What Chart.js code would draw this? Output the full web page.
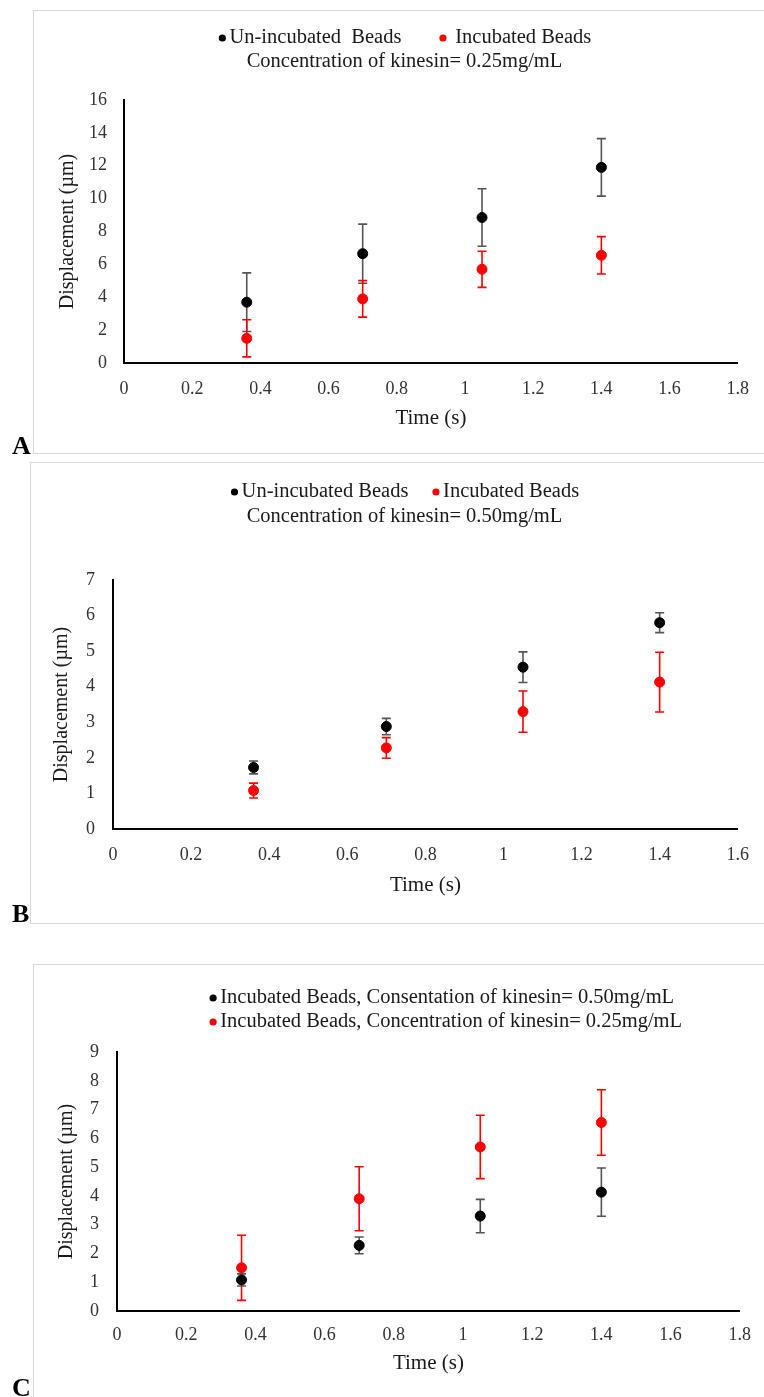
<!DOCTYPE html>
<html>
<head>
<meta charset="utf-8">
<title>Bead displacement vs time</title>
<script src="https://cdn.jsdelivr.net/npm/chart.js@4.4.0/dist/chart.umd.min.js"></script>
<style>
  html, body { margin: 0; padding: 0; background: #fff; }
  body {
    position: relative;
    width: 764px;
    height: 1397px;
    overflow: hidden;
    font-family: 'Liberation Serif', 'Times New Roman', serif;
  }
  .frame {
    position: absolute;
    width: 800px;
    box-sizing: border-box;
    border: 1.5px solid #d9d9d9;
    border-right: none;
  }
  .panel { position: absolute; left: 0; }
  .letter {
    position: absolute;
    left: 12px;
    font-size: 26px;
    line-height: 26px;
    font-weight: bold;
    color: #000;
  }
</style>
</head>
<body>
<div class="frame" style="left:33px; top:10px; height:444px"></div>
<div class="frame" style="left:30px; top:462px; height:462px"></div>
<div class="frame" style="left:33px; top:964px; height:500px"></div>

<canvas id="chartA" class="panel" style="top:0" width="764" height="455"></canvas>
<canvas id="chartB" class="panel" style="top:455px" width="764" height="470"></canvas>
<canvas id="chartC" class="panel" style="top:930px" width="764" height="467"></canvas>

<div class="letter" style="top:433px">A</div>
<div class="letter" style="top:901px">B</div>
<div class="letter" style="top:1375px">C</div>

<script>
const SERIF = "'Liberation Serif', 'Times New Roman', serif";

// sampling times (s), same for every series
const timeS = [0.36, 0.70, 1.05, 1.40];

// kinesin 0.25 mg/mL
const unincubated025 = [3.7, 6.65, 8.85, 11.9];
const unincubated025Err = [1.78, 1.8, 1.75, 1.75];
const incubated025 = [1.5, 3.9, 5.7, 6.55];
const incubated025Err = [1.13, 1.11, 1.1, 1.14];

// kinesin 0.50 mg/mL
const unincubated050 = [1.73, 2.88, 4.55, 5.8];
const unincubated050Err = [0.18, 0.23, 0.43, 0.28];
const incubated050 = [1.08, 2.28, 3.3, 4.13];
const incubated050Err = [0.21, 0.29, 0.58, 0.84];

// axis ticks
const xTicksA = [0, 0.2, 0.4, 0.6, 0.8, 1, 1.2, 1.4, 1.6, 1.8];
const yTicksA = [0, 2, 4, 6, 8, 10, 12, 14, 16];
const xTicksB = [0, 0.2, 0.4, 0.6, 0.8, 1, 1.2, 1.4, 1.6];
const yTicksB = [0, 1, 2, 3, 4, 5, 6, 7];
const xTicksC = [0, 0.2, 0.4, 0.6, 0.8, 1, 1.2, 1.4, 1.6, 1.8];
const yTicksC = [0, 1, 2, 3, 4, 5, 6, 7, 8, 9];

// legend / caption text
const namesA = ['Un-incubated  Beads', ' Incubated Beads'];
const captionA = 'Concentration of kinesin= 0.25mg/mL';
const namesB = ['Un-incubated Beads', 'Incubated Beads'];
const captionB = 'Concentration of kinesin= 0.50mg/mL';
const namesC = [
  'Incubated Beads, Consentation of kinesin= 0.50mg/mL',
  'Incubated Beads, Concentration of kinesin= 0.25mg/mL'
];

const xTitle = 'Time (s)';
const yTitle = 'Displacement (\u00b5m)';

/**
 * Vertical error bars with caps, drawn just under each dataset's points.
 */
const errorBarPlugin = {
  id: 'errorBars',
  beforeDatasetDraw(chart, args) {
    const ds = chart.data.datasets[args.index];
    if (!ds.yErr) return;
    const xs = chart.scales.x;
    const ys = chart.scales.y;
    const ctx = chart.ctx;
    ctx.save();
    ctx.strokeStyle = ds.errColor;
    ctx.lineWidth = 1.6;
    ds.data.forEach((p, i) => {
      const e = ds.yErr[i];
      const px = xs.getPixelForValue(p.x);
      const top = ys.getPixelForValue(p.y + e);
      const bot = ys.getPixelForValue(p.y - e);
      ctx.beginPath();
      ctx.moveTo(px, top); ctx.lineTo(px, bot);
      ctx.moveTo(px - 4.5, top); ctx.lineTo(px + 4.5, top);
      ctx.moveTo(px - 4.5, bot); ctx.lineTo(px + 4.5, bot);
      ctx.stroke();
    });
    ctx.restore();
  }
};

/**
 * Excel-like key: dot + label rows, plus plain caption rows.
 */
const keyPlugin = {
  id: 'excelKey',
  afterDraw(chart, args, opts) {
    if (!opts.rows) return;
    const ctx = chart.ctx;
    const dotR = 3.6, dotGap = 3.5;
    ctx.save();
    ctx.font = '20.5px ' + SERIF;
    ctx.textBaseline = 'middle';
    ctx.textAlign = 'left';
    opts.rows.forEach(row => {
      const pieces = row.text
        ? [{ text: row.text, color: null }]
        : row.items.map(i => ({
            text: chart.data.datasets[i].label,
            color: chart.data.datasets[i].pointBackgroundColor
          }));
      const widths = pieces.map(p =>
        ctx.measureText(p.text).width + (p.color ? 2 * dotR + dotGap : 0));
      const gap = row.gap || 0;
      const total = widths.reduce((a, b) => a + b, 0) + gap * (pieces.length - 1);
      let x = row.align === 'left' ? row.x : row.x - total / 2;
      pieces.forEach((p, i) => {
        let tx = x;
        if (p.color) {
          ctx.fillStyle = p.color;
          ctx.beginPath();
          ctx.arc(x + dotR, row.y, dotR, 0, Math.PI * 2);
          ctx.fill();
          tx = x + 2 * dotR + dotGap;
        }
        ctx.fillStyle = '#1a1a1a';
        ctx.fillText(p.text, tx, row.y);
        x += widths[i] + gap;
      });
    });
    ctx.restore();
  }
};

function series(label, xs, ys, errs, color, errColor, order) {
  return {
    label: label,
    data: xs.map((t, i) => ({ x: t, y: ys[i] })),
    yErr: errs,
    errColor: errColor,
    order: order,
    pointRadius: 5,
    pointHoverRadius: 5,
    pointBackgroundColor: color,
    pointBorderColor: color,
    pointBorderWidth: 1,
    showLine: false
  };
}

/**
 * g holds the plot geometry in canvas pixels.
 */
function buildPanel(canvasId, g, datasets, xTicks, yTicks, key) {
  const yTitleSize = 20, xTitleSize = 21, tickSize = 18;
  const canvas = document.getElementById(canvasId);
  const padLeft = g.yTitleX - yTitleSize * 1.2 / 2;
  const xScaleBottom = g.xTitleY + xTitleSize * 1.2 / 2;

  return new Chart(canvas, {
    type: 'scatter',
    data: { datasets: datasets },
    options: {
      responsive: false,
      animation: false,
      devicePixelRatio: 1,
      layout: {
        padding: {
          left: padLeft,
          right: canvas.width - g.right,
          top: g.top,
          bottom: canvas.height - xScaleBottom
        }
      },
      plugins: {
        legend: { display: false },
        tooltip: { enabled: false },
        excelKey: key
      },
      scales: {
        x: {
          type: 'linear',
          min: xTicks[0],
          max: xTicks[xTicks.length - 1],
          afterBuildTicks: s => { s.ticks = xTicks.map(v => ({ value: v })); },
          afterFit: s => { s.height = xScaleBottom - g.bottom; },
          grid: { display: false, drawTicks: false },
          border: { color: '#000', width: 2 },
          ticks: {
            padding: g.xTickPad,
            color: '#333',
            font: { family: SERIF, size: tickSize },
            maxRotation: 0,
            autoSkip: false,
            callback: v => String(v)
          },
          title: {
            display: true, text: xTitle, color: '#1a1a1a', padding: 0,
            font: { family: SERIF, size: xTitleSize }
          }
        },
        y: {
          type: 'linear',
          min: yTicks[0],
          max: yTicks[yTicks.length - 1],
          afterBuildTicks: s => { s.ticks = yTicks.map(v => ({ value: v })); },
          afterFit: s => { s.width = g.left - padLeft; },
          grid: { display: false, drawTicks: false },
          border: { color: '#000', width: 2 },
          ticks: {
            padding: g.yTickPad,
            color: '#333',
            font: { family: SERIF, size: tickSize },
            autoSkip: false,
            callback: v => String(v)
          },
          title: {
            display: true, text: yTitle, color: '#1a1a1a', padding: 0,
            font: { family: SERIF, size: yTitleSize }
          }
        }
      }
    },
    plugins: [errorBarPlugin, keyPlugin]
  });
}

buildPanel('chartA',
  { left: 124, right: 741, top: 100, bottom: 363, yTitleX: 68, xTitleY: 418, xTickPad: 15, yTickPad: 17 },
  [
    series(namesA[0], timeS, unincubated025, unincubated025Err, '#000000', '#555555', 1),
    series(namesA[1], timeS, incubated025, incubated025Err, '#ff0000', '#ff0000', 0)
  ],
  xTicksA, yTicksA,
  { rows: [ { y: 38, x: 405, items: [0, 1], gap: 38 }, { y: 62, x: 404.5, text: captionA } ] }
);

buildPanel('chartB',
  { left: 113, right: 741, top: 125, bottom: 374, yTitleX: 62, xTitleY: 430, xTickPad: 15, yTickPad: 18 },
  [
    series(namesB[0], timeS, unincubated050, unincubated050Err, '#000000', '#555555', 1),
    series(namesB[1], timeS, incubated050, incubated050Err, '#ff0000', '#ff0000', 0)
  ],
  xTicksB, yTicksB,
  { rows: [ { y: 37, x: 405, items: [0, 1], gap: 24 }, { y: 62, x: 404.5, text: captionB } ] }
);

buildPanel('chartC',
  { left: 117, right: 744, top: 122, bottom: 381, yTitleX: 67, xTitleY: 433, xTickPad: 13, yTickPad: 18 },
  [
    series(namesC[0], timeS, incubated050, incubated050Err, '#000000', '#555555', 0),
    series(namesC[1], timeS, incubated025, incubated025Err, '#ff0000', '#ff0000', 1)
  ],
  xTicksC, yTicksC,
  { rows: [ { y: 68, x: 209.5, align: 'left', items: [0] }, { y: 92, x: 209.5, align: 'left', items: [1] } ] }
);
</script>
</body>
</html>
